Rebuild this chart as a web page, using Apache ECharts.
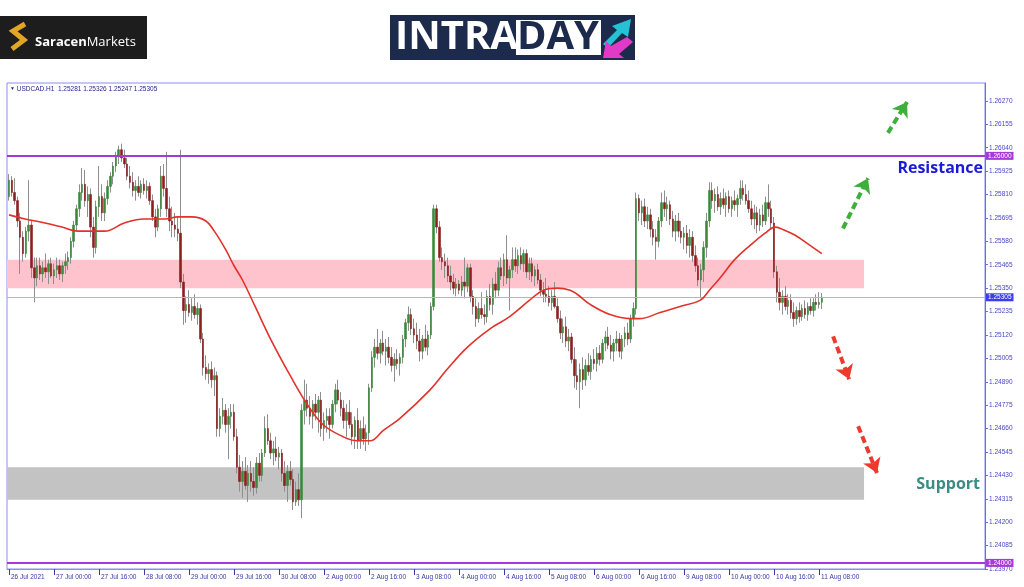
<!DOCTYPE html>
<html><head><meta charset="utf-8">
<script src="https://cdn.jsdelivr.net/npm/echarts@6/dist/echarts.min.js"></script>
<style>html,body{margin:0;padding:0;background:#fff}#c{width:1024px;height:587px}</style>
</head><body><div id="c"></div>
<script>
const symbolName = 'USDCAD.H1';
const tickBars = [0,16,32,48,64,80,96,112,128,144,160,176,192,208,224,240,256,272,288];
const tickLabels = ['26 Jul 2021','27 Jul 00:00','27 Jul 16:00','28 Jul 08:00','29 Jul 00:00','29 Jul 16:00','30 Jul 08:00','2 Aug 00:00','2 Aug 16:00','3 Aug 08:00','4 Aug 00:00','4 Aug 16:00','5 Aug 08:00','6 Aug 00:00','6 Aug 16:00','9 Aug 08:00','10 Aug 00:00','10 Aug 16:00','11 Aug 08:00'];
const yTicks = [1.2397,1.24085,1.242,1.24315,1.2443,1.24545,1.2466,1.24775,1.2489,1.25005,1.2512,1.25235,1.2535,1.25465,1.2558,1.25695,1.2581,1.25925,1.2604,1.26155,1.2627];

const opens = [
1.2580,1.2588,1.2582,1.2578,1.2568,1.2560,1.2552,1.2563,1.2566,1.2545,
1.2540,1.2546,1.2542,1.2545,1.2543,1.2547,1.2541,1.2544,1.2546,1.2542,
1.2546,1.2548,1.2550,1.2558,1.2566,1.2574,1.2582,1.2586,1.2578,1.2581,
1.2565,1.2555,1.2575,1.2580,1.2572,1.2579,1.2585,1.2590,1.2595,1.2600,
1.2603,1.2599,1.2596,1.2590,1.2587,1.2583,1.2585,1.2582,1.2586,1.2583,
1.2585,1.2578,1.2570,1.2565,1.2574,1.2590,1.2584,1.2574,1.2568,1.2566,
1.2564,1.2562,1.2538,1.2524,1.2527,1.2523,1.2526,1.2522,1.2525,1.2510,
1.2496,1.2493,1.2495,1.2490,1.2492,1.2466,1.2472,1.2475,1.2468,1.2472,
1.2474,1.2462,1.2447,1.2440,1.2445,1.2438,1.2444,1.2440,1.2437,1.2449,
1.2443,1.2454,1.2466,1.2460,1.2454,1.2456,1.2452,1.2454,1.2444,1.2438,
1.2445,1.2441,1.2430,1.2436,1.2431,1.2475,1.2480,1.2476,1.2472,1.2478,
1.2474,1.2480,1.2466,1.2470,1.2472,1.2468,1.2478,1.2485,1.2480,1.2476,
1.2470,1.2474,1.2468,1.2462,1.2470,1.2460,1.2466,1.2461,1.2464,1.2486,
1.2501,1.2506,1.2503,1.2508,1.2504,1.2506,1.2501,1.2497,1.2500,1.2498,
1.2501,1.2510,1.2518,1.2522,1.2515,1.2512,1.2509,1.2504,1.2510,1.2506,
1.2512,1.2526,1.2574,1.2565,1.2550,1.2548,1.2546,1.2541,1.2538,1.2535,
1.2537,1.2534,1.2538,1.2536,1.2545,1.2531,1.2526,1.2520,1.2525,1.2522,
1.2521,1.2531,1.2527,1.2537,1.2534,1.2545,1.2541,1.2549,1.2540,1.2544,
1.2549,1.2546,1.2551,1.2547,1.2552,1.2543,1.2547,1.2541,1.2544,1.2539,
1.2534,1.2532,1.2531,1.2528,1.2531,1.2526,1.2520,1.2513,1.2516,1.2509,
1.2511,1.2500,1.2492,1.2489,1.2495,1.2490,1.2497,1.2494,1.2500,1.2498,
1.2503,1.2500,1.2508,1.2511,1.2507,1.2504,1.2508,1.2510,1.2504,1.2510,
1.2513,1.2510,1.2520,1.2525,1.2579,1.2572,1.2575,1.2568,1.2571,1.2564,
1.2560,1.2558,1.2568,1.2577,1.2574,1.2576,1.2569,1.2563,1.2568,1.2563,
1.2560,1.2562,1.2556,1.2560,1.2551,1.2546,1.2539,1.2544,1.2555,1.2568,
1.2583,1.2578,1.2581,1.2575,1.2579,1.2576,1.2580,1.2574,1.2578,1.2576,
1.2579,1.2584,1.2581,1.2578,1.2574,1.2569,1.2572,1.2566,1.2571,1.2568,
1.2577,1.2574,1.2567,1.2543,1.2533,1.2528,1.2531,1.2526,1.2529,1.2523,
1.2520,1.2524,1.2521,1.2525,1.2522,1.2526,1.2524,1.2528,1.2527,1.25281];

const highs = [
1.2591,1.2590,1.2589,1.2580,1.2572,1.2563,1.2565,1.2588,1.2568,1.2550,
1.2550,1.2550,1.2548,1.2552,1.2549,1.2550,1.2547,1.2550,1.2549,1.2548,
1.2552,1.2553,1.2560,1.2568,1.2576,1.2586,1.2594,1.2593,1.2585,1.2584,
1.2570,1.2578,1.2595,1.2586,1.2582,1.2588,1.2592,1.2597,1.2602,1.2605,
1.2606,1.2603,1.2599,1.2595,1.2592,1.2588,1.2590,1.2588,1.2589,1.2588,
1.2587,1.2581,1.2574,1.2576,1.2595,1.2596,1.2602,1.2580,1.2575,1.2572,
1.2570,1.2603,1.2542,1.2531,1.2534,1.2530,1.2532,1.2528,1.2527,1.2513,
1.2502,1.2498,1.2499,1.2496,1.2494,1.2476,1.2481,1.2478,1.2476,1.2478,
1.2478,1.2466,1.2453,1.2450,1.2452,1.2448,1.2450,1.2447,1.2452,1.2454,
1.2456,1.2472,1.2473,1.2464,1.2460,1.2462,1.2457,1.2456,1.2450,1.2448,
1.2450,1.2446,1.2440,1.2444,1.2478,1.2490,1.2488,1.2482,1.2480,1.2483,
1.2482,1.2484,1.2474,1.2476,1.2476,1.2480,1.2488,1.2490,1.2484,1.2480,
1.2478,1.2480,1.2474,1.2472,1.2476,1.2470,1.2472,1.2468,1.2488,1.2504,
1.2510,1.2515,1.2510,1.2514,1.2510,1.2511,1.2506,1.2503,1.2505,1.2503,
1.2512,1.2520,1.2526,1.2525,1.2520,1.2518,1.2515,1.2512,1.2517,1.2514,
1.2528,1.2576,1.2576,1.2568,1.2555,1.2552,1.2550,1.2546,1.2542,1.2540,
1.2539,1.2541,1.2550,1.2547,1.2547,1.2534,1.2530,1.2528,1.2533,1.2527,
1.2534,1.2537,1.2540,1.2543,1.2548,1.2550,1.2552,1.2561,1.2546,1.2555,
1.2555,1.2554,1.2555,1.2554,1.2554,1.2550,1.2550,1.2546,1.2547,1.2542,
1.2538,1.2540,1.2536,1.2534,1.2538,1.2530,1.2524,1.2520,1.2521,1.2515,
1.2513,1.2506,1.2500,1.2498,1.2501,1.2500,1.2503,1.2502,1.2505,1.2506,
1.2507,1.2510,1.2514,1.2516,1.2512,1.2510,1.2514,1.2513,1.2512,1.2516,
1.2518,1.2522,1.2528,1.2582,1.2581,1.2578,1.2579,1.2575,1.2574,1.2568,
1.2564,1.2570,1.2582,1.2583,1.2580,1.2578,1.2573,1.2571,1.2572,1.2568,
1.2565,1.2566,1.2564,1.2563,1.2556,1.2550,1.2547,1.2558,1.2572,1.2587,
1.2587,1.2584,1.2585,1.2582,1.2584,1.2582,1.2583,1.2580,1.2583,1.2581,
1.2588,1.2588,1.2586,1.2583,1.2578,1.2576,1.2575,1.2574,1.2576,1.2580,
1.2586,1.2578,1.2570,1.2546,1.2540,1.2534,1.2536,1.2532,1.2532,1.2528,
1.2526,1.2528,1.2527,1.2529,1.2528,1.2530,1.2530,1.2532,1.2533,1.25326];

const lows = [
1.2578,1.2580,1.2576,1.2565,1.2542,1.2548,1.2550,1.2558,1.2540,1.2528,
1.2536,1.2539,1.2538,1.2540,1.2537,1.2540,1.2537,1.2540,1.2539,1.2538,
1.2542,1.2544,1.2547,1.2555,1.2563,1.2570,1.2578,1.2575,1.2570,1.2560,
1.2550,1.2552,1.2570,1.2568,1.2568,1.2576,1.2582,1.2586,1.2592,1.2596,
1.2597,1.2594,1.2588,1.2584,1.2580,1.2578,1.2580,1.2579,1.2581,1.2579,
1.2576,1.2568,1.2560,1.2563,1.2570,1.2580,1.2570,1.2563,1.2560,1.2560,
1.2558,1.2535,1.2517,1.2518,1.2521,1.2519,1.2520,1.2517,1.2508,1.2492,
1.2490,1.2488,1.2486,1.2482,1.2462,1.2462,1.2468,1.2464,1.2451,1.2466,
1.2460,1.2444,1.2435,1.2432,1.2436,1.2430,1.2435,1.2433,1.2434,1.2440,
1.2440,1.2452,1.2458,1.2451,1.2448,1.2450,1.2446,1.2440,1.2435,1.2430,
1.2438,1.2426,1.2428,1.2428,1.2422,1.2468,1.2472,1.2468,1.2466,1.2470,
1.2464,1.2462,1.2460,1.2464,1.2461,1.2466,1.2474,1.2478,1.2472,1.2466,
1.2462,1.2466,1.2458,1.2456,1.2456,1.2456,1.2458,1.2455,1.2458,1.2484,
1.2496,1.2500,1.2498,1.2502,1.2497,1.2498,1.2494,1.2489,1.2495,1.2492,
1.2498,1.2506,1.2514,1.2512,1.2508,1.2505,1.2499,1.2500,1.2504,1.2502,
1.2510,1.2524,1.2562,1.2548,1.2544,1.2540,1.2538,1.2534,1.2532,1.2531,
1.2532,1.2531,1.2530,1.2533,1.2528,1.2522,1.2516,1.2518,1.2520,1.2517,
1.2518,1.2524,1.2522,1.2530,1.2531,1.2539,1.2536,1.2537,1.2524,1.2540,
1.2543,1.2542,1.2544,1.2543,1.2540,1.2539,1.2538,1.2536,1.2537,1.2531,
1.2528,1.2528,1.2526,1.2524,1.2525,1.2518,1.2510,1.2508,1.2506,1.2504,
1.2498,1.2486,1.2485,1.2476,1.2485,1.2487,1.2492,1.2490,1.2495,1.2494,
1.2497,1.2498,1.2504,1.2505,1.2500,1.2499,1.2504,1.2501,1.2500,1.2506,
1.2507,1.2508,1.2516,1.2522,1.2568,1.2566,1.2565,1.2564,1.2560,1.2556,
1.2549,1.2555,1.2565,1.2570,1.2568,1.2566,1.2560,1.2558,1.2560,1.2557,
1.2554,1.2552,1.2550,1.2548,1.2543,1.2536,1.2530,1.2538,1.2550,1.2565,
1.2574,1.2572,1.2573,1.2571,1.2574,1.2570,1.2572,1.2570,1.2573,1.2570,
1.2576,1.2578,1.2576,1.2572,1.2566,1.2564,1.2562,1.2563,1.2565,1.2566,
1.2570,1.2564,1.2540,1.2528,1.2524,1.2522,1.2524,1.2522,1.2520,1.2516,
1.2517,1.2518,1.2519,1.2520,1.2519,1.2522,1.2521,1.2524,1.2525,1.25247];

const closes = [
1.2588,1.2582,1.2578,1.2568,1.2560,1.2552,1.2563,1.2566,1.2545,1.2540,
1.2546,1.2542,1.2545,1.2543,1.2547,1.2541,1.2544,1.2546,1.2542,1.2546,
1.2548,1.2550,1.2558,1.2566,1.2574,1.2582,1.2586,1.2578,1.2581,1.2565,
1.2555,1.2575,1.2580,1.2572,1.2579,1.2585,1.2590,1.2595,1.2600,1.2603,
1.2599,1.2596,1.2590,1.2587,1.2583,1.2585,1.2582,1.2586,1.2583,1.2585,
1.2578,1.2570,1.2565,1.2574,1.2590,1.2584,1.2574,1.2568,1.2566,1.2564,
1.2562,1.2538,1.2524,1.2527,1.2523,1.2526,1.2522,1.2525,1.2510,1.2496,
1.2493,1.2495,1.2490,1.2492,1.2466,1.2472,1.2475,1.2468,1.2472,1.2474,
1.2462,1.2447,1.2440,1.2445,1.2438,1.2444,1.2440,1.2437,1.2449,1.2443,
1.2454,1.2466,1.2460,1.2454,1.2456,1.2452,1.2454,1.2444,1.2438,1.2445,
1.2441,1.2430,1.2436,1.2431,1.2475,1.2480,1.2476,1.2472,1.2478,1.2474,
1.2480,1.2466,1.2470,1.2472,1.2468,1.2478,1.2485,1.2480,1.2476,1.2470,
1.2474,1.2468,1.2462,1.2470,1.2460,1.2466,1.2461,1.2464,1.2486,1.2501,
1.2506,1.2503,1.2508,1.2504,1.2506,1.2501,1.2497,1.2500,1.2498,1.2501,
1.2510,1.2518,1.2522,1.2515,1.2512,1.2509,1.2504,1.2510,1.2506,1.2512,
1.2526,1.2574,1.2565,1.2550,1.2548,1.2546,1.2541,1.2538,1.2535,1.2537,
1.2534,1.2538,1.2536,1.2545,1.2531,1.2526,1.2520,1.2525,1.2522,1.2521,
1.2531,1.2527,1.2537,1.2534,1.2545,1.2541,1.2549,1.2540,1.2544,1.2549,
1.2546,1.2551,1.2547,1.2552,1.2543,1.2547,1.2541,1.2544,1.2539,1.2534,
1.2532,1.2531,1.2528,1.2531,1.2526,1.2520,1.2513,1.2516,1.2509,1.2511,
1.2500,1.2492,1.2489,1.2495,1.2490,1.2497,1.2494,1.2500,1.2498,1.2503,
1.2500,1.2508,1.2511,1.2507,1.2504,1.2508,1.2510,1.2504,1.2510,1.2513,
1.2510,1.2520,1.2525,1.2579,1.2572,1.2575,1.2568,1.2571,1.2564,1.2560,
1.2558,1.2568,1.2577,1.2574,1.2576,1.2569,1.2563,1.2568,1.2563,1.2560,
1.2562,1.2556,1.2560,1.2551,1.2546,1.2539,1.2544,1.2555,1.2568,1.2583,
1.2578,1.2581,1.2575,1.2579,1.2576,1.2580,1.2574,1.2578,1.2576,1.2579,
1.2584,1.2581,1.2578,1.2574,1.2569,1.2572,1.2566,1.2571,1.2568,1.2577,
1.2574,1.2567,1.2543,1.2533,1.2528,1.2531,1.2526,1.2529,1.2523,1.2520,
1.2524,1.2521,1.2525,1.2522,1.2526,1.2524,1.2528,1.2527,1.2528,1.25305];

// moving average: bar position and value
const maBars = [0,5.7,12.8,18.8,24.5,34,41,48,55.5,60,65,70,73,77,80,83,87.5,93,100,106,111.6,118.8,123.7,128.4,133,139,149.7,155.7,163,171,178,185,190,195,199.5,202,206.6,213.7,220.8,224,231.5,238.6,245.7,249,252.8,258,263.5,268.8,272.4,274.8,279.5,284.8,289];
const maValues = [1.2571,1.2569,1.2567,1.2565,1.2563,1.2563,1.2567,1.2569,1.2569,1.2570,1.2570,1.2568,1.2563,1.2554,1.2546,1.2539,1.2526,1.2510,1.2492,1.2478,1.2468,1.2462,1.2460,1.2460,1.2465,1.2471,1.2485,1.2495,1.2506,1.2515,1.2521,1.2529,1.2534,1.2535,1.2534,1.2532,1.2527,1.2522,1.2520,1.2520,1.2523,1.2526,1.2529,1.2534,1.2540,1.2549,1.2556,1.2562,1.2565,1.2564,1.2561,1.2556,1.2552];

const levels = [1.26, 1.24];
const resistanceZone = [1.2535, 1.2549];
const supportZone = [1.2431, 1.2447];
const zoneEndBar = 304;
const upArrows = [[[296.5,1.25643],[305.4,1.25890]], [[312.5,1.26113],[319.3,1.26265]]];
const downArrows = [[[293.0,1.25113],[298.7,1.24902]], [[301.9,1.24672],[308.6,1.24442]]];

const X_MIN = -0.71, X_MAX = 347.0;
const n = closes.length;
const wickData = closes.map((c, i) => [i, opens[i], c, lows[i], highs[i]]);
const bodyData = closes.map((c, i) => [i, opens[i], c, Math.min(opens[i], c), Math.max(opens[i], c)]);
const maData = maBars.map((b, i) => [b, maValues[i]]);
const last = n - 1;
const current = closes[last];

const AX = 'Liberation Sans';
const axisColor = '#3838a8';
const frameColor = '#8c8cf2';
const purple = '#a43bd6';

const arrowLines = upArrows.map(a => [{coord: a[0], lineStyle: {color: '#3fae3a'}},
  {coord: a[1], itemStyle: {color: '#3fae3a'}}])
 .concat(downArrows.map(a => [{coord: a[0], lineStyle: {color: '#ee3a2e'}},
  {coord: a[1], itemStyle: {color: '#ee3a2e'}}]));

const lvlLabel = (bg) => ({show: true, position: 'end', distance: 1, fontSize: 6.5, fontFamily: AX,
  color: '#fff', backgroundColor: bg, padding: [1, 2, 0, 2], formatter: p => Number(p.value).toFixed(5)});

const chart = echarts.init(document.getElementById('c'), null, {renderer: 'canvas'});
chart.setOption({
  animation: false,
  backgroundColor: '#fff',
  grid: {left: 7, right: 39, top: 83, bottom: 18, show: true, borderColor: frameColor, borderWidth: 1, backgroundColor: 'transparent'},
  xAxis: {
    type: 'value', min: X_MIN, max: X_MAX,
    axisLine: {show: true, onZero: false, lineStyle: {color: frameColor}},
    splitLine: {show: false},
    axisTick: {show: true, customValues: tickBars, length: 6, lineStyle: {color: axisColor}},
    axisLabel: {customValues: tickBars, formatter: v => tickLabels[tickBars.indexOf(v)] || '',
      align: 'left', margin: 5, fontSize: 6.5, fontFamily: AX, color: axisColor, padding: [0, 0, 0, 2]}
  },
  yAxis: {
    type: 'value', position: 'right', min: 1.2397, max: 1.26358, scale: true,
    axisLine: {show: true, onZero: false, lineStyle: {color: '#6a6ae6'}},
    splitLine: {show: false},
    axisTick: {show: true, customValues: yTicks, length: 3, lineStyle: {color: '#6a6ae6'}},
    axisLabel: {customValues: yTicks, formatter: v => v.toFixed(5), margin: 4, fontSize: 6.5, fontFamily: AX, color: '#4646c8'}
  },
  series: [
    {
      type: 'line', name: 'zones', data: [], z: 1, silent: true,
      markArea: {silent: true, data: [
        [{xAxis: X_MIN, yAxis: resistanceZone[1], itemStyle: {color: '#ffc3cd'}}, {xAxis: zoneEndBar, yAxis: resistanceZone[0]}],
        [{xAxis: X_MIN, yAxis: supportZone[1], itemStyle: {color: '#c3c3c3'}}, {xAxis: zoneEndBar, yAxis: supportZone[0]}]
      ]}
    },
    {
      type: 'candlestick', name: 'wicks', data: wickData, barWidth: 1, z: 2, silent: true,
      itemStyle: {color: '#8e8e8e', color0: '#8e8e8e', borderColor: '#8e8e8e', borderColor0: '#8e8e8e', borderWidth: 1},
      markLine: {silent: true, symbol: 'none', animation: false, precision: 5, data: [
        {yAxis: current, lineStyle: {color: '#b4b4c4', width: 1, type: 'solid'}, label: lvlLabel('#3c3cf2')}
      ]}
    },
    {
      type: 'candlestick', name: 'bodies', data: bodyData, barWidth: 2, z: 3, silent: true,
      itemStyle: {color: '#3a8a3a', color0: '#8c1f1f', borderColor: '#3a8a3a', borderColor0: '#8c1f1f', borderWidth: 0.6}
    },
    {
      type: 'line', name: 'MA', data: maData, smooth: 0.4, showSymbol: false, z: 5, silent: true,
      lineStyle: {color: '#e2322b', width: 1.6},
      markLine: {silent: true, symbol: 'none', animation: false, precision: 5, data: levels.map(v => (
        {yAxis: v, lineStyle: {color: purple, width: 2, type: 'solid'}, label: lvlLabel(purple)}))}
    },
    {
      type: 'line', name: 'arrows', data: [], z: 6, silent: true,
      markLine: {silent: true, animation: false, precision: 5, symbol: ['none', 'arrow'], symbolSize: [14, 14],
        lineStyle: {type: [7, 4], width: 4}, label: {show: false}, data: arrowLines}
    }
  ],
  graphic: [
    {type: 'rect', shape: {x: 0, y: 16, width: 147, height: 43}, style: {fill: '#1d1d1d'}},
    {type: 'polyline', shape: {points: [[25, 24], [13, 31], [24, 40], [12, 49]]}, style: {stroke: '#e2a526', lineWidth: 5, fill: null}},
    {type: 'text', x: 35, y: 42, style: {text: '{b|Saracen}{n|Markets}', verticalAlign: 'middle',
      rich: {b: {fontWeight: 'bold', fontSize: 13, fill: '#ffffff', fontFamily: 'Open Sans'},
             n: {fontSize: 13, fill: '#ffffff', fontFamily: 'Open Sans'}}}},
    {type: 'rect', shape: {x: 390, y: 15, width: 245, height: 45}, style: {fill: '#1c2b4c'}},
    {type: 'rect', shape: {x: 516, y: 20, width: 85, height: 35}, style: {fill: '#ffffff'}},
    {type: 'text', x: 395, y: 38, style: {text: 'INTRA', fill: '#ffffff', font: 'bold 40px "Open Sans"', verticalAlign: 'middle'}},
    {type: 'text', x: 558, y: 38, style: {text: 'DAY', fill: '#1c2b4c', font: 'bold 40px "Open Sans"', align: 'center', verticalAlign: 'middle'}},
    {type: 'polygon', shape: {points: [[603, 44], [617, 30], [612, 26], [631, 19], [628, 37], [622, 33], [608, 48]]}, style: {fill: '#25c1d4'}},
    {type: 'polygon', shape: {points: [[633, 42], [619, 54], [624, 58], [603, 58], [606, 41], [611, 46], [627, 37]]}, style: {fill: '#e13ac6'}},
    {type: 'text', x: 10, y: 89, style: {text: '{t|▼} ' + symbolName + '  ' + [opens[last], highs[last], lows[last], closes[last]].map(v => v.toFixed(5)).join(' '),
      fill: '#26268c', font: '6.5px "Liberation Sans"', verticalAlign: 'middle', rich: {t: {fontSize: 5, fill: '#26268c'}}}},
    {type: 'text', x: 983, y: 168, style: {text: 'Resistance', fill: '#1a1ad8', font: 'bold 16px "Open Sans"', align: 'right', verticalAlign: 'middle'}},
    {type: 'text', x: 980, y: 484, style: {text: 'Support', fill: '#3a8c84', font: 'bold 16px "Open Sans"', align: 'right', verticalAlign: 'middle'}}
  ]
});
</script></body></html>
